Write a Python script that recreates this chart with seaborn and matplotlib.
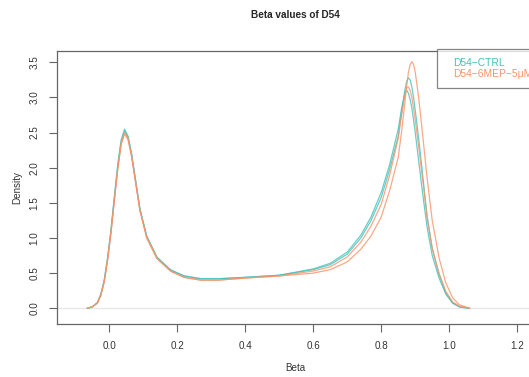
import numpy as np
import pandas as pd
import matplotlib
matplotlib.use('Agg')
import matplotlib.pyplot as plt
import seaborn as sns

# Density curves (Beta value -> density)
beta = [-0.065, -0.05, -0.035, -0.025, -0.015, -0.005, 0.005, 0.015, 0.025, 0.035,
        0.045, 0.055, 0.065, 0.075, 0.09, 0.11, 0.14, 0.18,
        0.22, 0.27, 0.32, 0.40, 0.50,
        0.60, 0.65, 0.70, 0.74, 0.77, 0.80, 0.825, 0.85,
        0.86, 0.87, 0.875, 0.88, 0.885, 0.89, 0.895, 0.90, 0.91, 0.92,
        0.935, 0.95, 0.97, 0.99, 1.01, 1.03, 1.06]

ctrl_1 = [0, 0.02, 0.08, 0.2, 0.4, 0.72, 1.12, 1.6, 2.05, 2.4,
          2.55, 2.45, 2.22, 1.9, 1.42, 1.03, 0.73, 0.55,
          0.46, 0.42, 0.42, 0.44, 0.47,
          0.55, 0.62, 0.77, 1.0, 1.25, 1.58, 1.98, 2.45,
          2.8, 3.12, 3.23, 3.28, 3.25, 3.15, 3.0, 2.82, 2.42, 1.98,
          1.3, 0.85, 0.48, 0.22, 0.08, 0.02, 0]
ctrl_2 = [0, 0.02, 0.08, 0.19, 0.39, 0.7, 1.1, 1.57, 2.02, 2.37,
          2.52, 2.43, 2.2, 1.88, 1.41, 1.02, 0.72, 0.54,
          0.46, 0.42, 0.42, 0.44, 0.47,
          0.56, 0.64, 0.80, 1.04, 1.30, 1.65, 2.05, 2.55,
          2.85, 3.07, 3.10, 3.06, 2.97, 2.85, 2.68, 2.5, 2.1, 1.7,
          1.15, 0.75, 0.43, 0.2, 0.07, 0.02, 0]
mep_1 = [0, 0.02, 0.07, 0.18, 0.37, 0.68, 1.07, 1.53, 1.98, 2.33,
         2.48, 2.4, 2.17, 1.86, 1.39, 1.0, 0.71, 0.53,
         0.44, 0.40, 0.40, 0.43, 0.46,
         0.50, 0.55, 0.66, 0.84, 1.03, 1.30, 1.68, 2.15,
         2.52, 2.95, 3.17, 3.36, 3.47, 3.51, 3.47, 3.36, 3.0, 2.55,
         1.85, 1.25, 0.72, 0.36, 0.15, 0.05, 0]
mep_2 = [0, 0.02, 0.08, 0.19, 0.38, 0.7, 1.09, 1.55, 2.0, 2.35,
         2.5, 2.42, 2.19, 1.88, 1.4, 1.01, 0.71, 0.53,
         0.44, 0.40, 0.40, 0.43, 0.46,
         0.53, 0.59, 0.73, 0.94, 1.17, 1.48, 1.90, 2.42,
         2.75, 3.05, 3.14, 3.15, 3.1, 3.0, 2.85, 2.68, 2.3, 1.9,
         1.3, 0.85, 0.5, 0.24, 0.09, 0.03, 0]

groups = ['D54\u2212CTRL', 'D54\u22126MEP\u22125\u03bcM']
colors = ['#45C1B9', '#F8936B']

frames = []
for name, grp, vals in [('ctrl_1', groups[0], ctrl_1), ('ctrl_2', groups[0], ctrl_2),
                        ('mep_1', groups[1], mep_1), ('mep_2', groups[1], mep_2)]:
    frames.append(pd.DataFrame({'Beta': beta, 'Density': vals, 'sample': name, 'group': grp}))
df = pd.concat(frames, ignore_index=True)

sns.set_style('white')
plt.rcParams['font.family'] = ['Liberation Sans', 'DejaVu Sans']

fig = plt.figure(figsize=(5.29, 3.77), dpi=100)
ax = fig.add_axes([0.1083, 0.1398, 0.899, 0.724])

ax.axhline(0, color='#e8e8e8', lw=1.0, zorder=0)
sns.lineplot(data=df, x='Beta', y='Density', hue='group', units='sample',
             estimator=None, sort=False, palette=colors, lw=0.9, alpha=0.8,
             legend=False, ax=ax)

ax.set_xlim(-0.153, 1.246)
ax.set_ylim(-0.228, 3.656)
ax.set_xticks([0.0, 0.2, 0.4, 0.6, 0.8, 1.0, 1.2])
ax.set_yticks(np.arange(0, 3.51, 0.5))
ax.set_xticklabels(['0.0', '0.2', '0.4', '0.6', '0.8', '1.0', '1.2'])
ax.set_yticklabels(['%.1f' % v for v in np.arange(0, 3.51, 0.5)], rotation=90, va='center')

for s in ax.spines.values():
    s.set_color('#666666')
    s.set_linewidth(0.9)
ax.tick_params(axis='both', direction='out', length=6, width=0.8, color='#666666',
               labelsize=7.1, labelcolor='#333333', left=True, bottom=True)
ax.tick_params(axis='x', pad=6)
ax.tick_params(axis='y', pad=7)

ax.set_xlabel('Beta', fontsize=7.1, color='#333333', va='center')
ax.xaxis.set_label_coords(0.5, -0.16)
ax.set_ylabel('Density', fontsize=7.1, color='#333333', va='center')
ax.yaxis.set_label_coords(-0.085, 0.5)
ax.set_title('Beta values of D54', fontsize=7.2, fontweight='bold', y=1.133, va='center', pad=0)

# text-only legend like base R
handles = [plt.Line2D([], [], color=c, lw=0) for c in colors]
leg = ax.legend(handles, groups, loc='upper left', bbox_to_anchor=(0.798, 1.008),
                handlelength=0, handletextpad=0.7, borderpad=0.85, labelspacing=0.15,
                fontsize=7.4, frameon=True, fancybox=False, borderaxespad=0)
leg.get_frame().set_edgecolor('#666666')
leg.get_frame().set_linewidth(0.9)
for t, c in zip(leg.get_texts(), colors):
    t.set_color(c)

fig.savefig('out.png', dpi=100)
